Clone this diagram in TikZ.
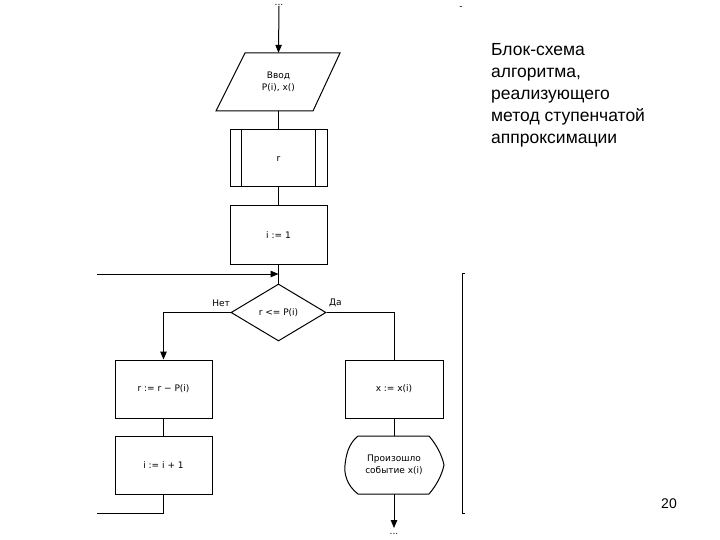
\documentclass[tikz,border=0pt]{standalone}
\usepackage{fontspec}
\setmainfont{Liberation Sans}
\newfontfamily\dfont{DejaVu Sans}
\usetikzlibrary{arrows.meta,shapes.geometric}
\begin{document}
\begin{tikzpicture}[x=1pt,y=-1pt,
  line/.style={draw=black,line width=1pt},
  arr/.style={line,-{Triangle[length=8pt,width=6.5pt]}},
  dtxt/.style={font=\dfont\fontsize{9}{12}\selectfont},
  box/.style={draw,line width=1pt,minimum width=97pt,minimum height=58pt,inner sep=0pt,dtxt,align=center},
  ghost/.style={minimum width=97pt,minimum height=58pt,inner sep=0pt,dtxt,align=center},
  lbl/.style={dtxt,inner sep=0pt,align=center}]
\useasboundingbox (0,0) rectangle (720,540);

% top
\node[lbl] (dots1) at (279,5) {...};
\node[lbl] (dash) at (461,8) {-};
\node[ghost] (inp) at (278.5,82) {Ввод\\P(i), x()};
\draw[line] (245,53) -- (340,53) -- (313,111) -- (216,111) -- cycle;
\draw[arr] (dots1.south) -- (inp.north);

% predefined process
\node[box,minimum height=57pt] (r) at (278.5,158.5) {r};
\draw[line] ([xshift=12pt]r.north west) -- ([xshift=12pt]r.south west);
\draw[line] ([xshift=-12pt]r.north east) -- ([xshift=-12pt]r.south east);
\draw[line] (inp.south) -- (r.north);

% i := 1
\node[box] (i1) at (278.5,235) {i := 1};
\draw[line] (r.south) -- (i1.north);

% condition
\node[draw,line width=1pt,diamond,aspect=1.7,minimum width=95pt,minimum height=57pt,inner sep=0pt,dtxt] (cond) at (278.5,312.5) {r <= P(i)};
\draw[line] (i1.south) -- (cond.north);
\coordinate (loopT) at (97,274);
\draw[arr] (loopT) -- (i1.south |- loopT);

\node[lbl,anchor=east] (no) at (230,303) {Нет};
\node[lbl,anchor=west] (yes) at (329,303) {Да};

% left branch
\node[box] (rr) at (163.5,389) {r := r − P(i)};
\node[box] (ii) at (163.5,465) {i := i + 1};
\draw[arr] (cond.west) -| (rr.north);
\draw[line] (rr.south) -- (ii.north);
\coordinate (loopB) at (97,513);
\draw[line] (ii.south) |- (loopB);

% right branch
\node[box,minimum width=98pt] (xx) at (394,389) {x := x(i)};
\draw[line] (cond.east) -| (xx.north);
\node[ghost,minimum width=98pt] (ev) at (394,465) {Произошло\\событие x(i)};
\draw[line] (358,436) -- (429,436)
  .. controls (436,444) and (442,455) .. (444,465)
  .. controls (442,475) and (436,486) .. (429,494)
  -- (358,494)
  .. controls (346,485) and (344,472) .. (345,465)
  .. controls (346,456) and (348,444) .. (358,436);
\draw[line] (xx.south) -- (ev.north);
\node[lbl] (dots2) at (394,534) {...};
\draw[arr] (ev.south) -- (394,528);

% bracket
\draw[line] (465,273) -- (462,273) -- (462,513) -- (465,513);

% title
\node[anchor=north west,align=left,inner sep=0pt,font=\fontsize{17.5}{22}\selectfont] (title) at (491,43)
  {Блок-схема\\алгоритма,\\реализующего\\метод ступенчатой\\аппроксимации};
\node[inner sep=0pt,font=\fontsize{14}{16}\selectfont] (page) at (669,504) {20};
\end{tikzpicture}
\end{document}
